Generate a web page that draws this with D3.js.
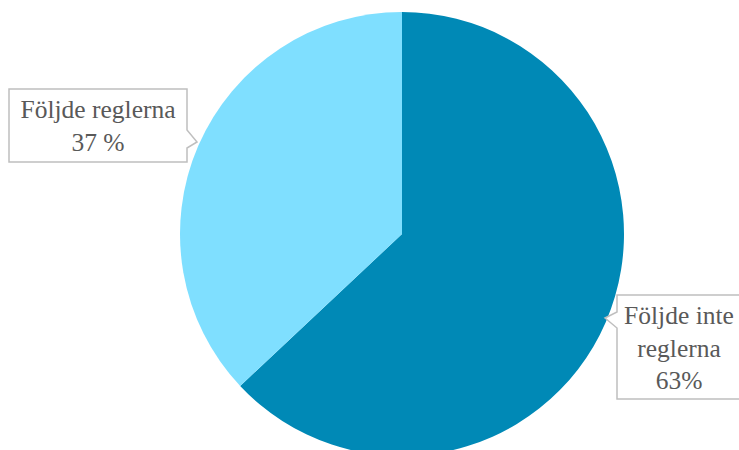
<!DOCTYPE html>
<html><head><meta charset="utf-8">
<script src="https://cdn.jsdelivr.net/npm/d3@7"></script>
<style>body{margin:0;background:#fff;}svg{display:block;}</style>
</head><body>
<svg id="c" width="739" height="450"></svg>
<script>
const categories = ["Följde inte reglerna", "Följde reglerna"];
const values = [63, 37];
const labelLines = [["Följde inte", "reglerna", "63%"], ["Följde reglerna", "37 %"]];
const colors = ["#0089B6", "#7FDFFF"];

const svg = d3.select("#c");
const cx = 402, cy = 234, r = 222;
const pie = d3.pie().sort(null).value(d => d)(values);
const arc = d3.arc().innerRadius(0).outerRadius(r);
const g = svg.append("g").attr("transform", `translate(${cx},${cy})`);
g.selectAll("path").data(pie).enter().append("path")
  .attr("d", arc).attr("fill", (d, i) => colors[i]);

// callouts
const boxes = [
  {x: 617, y: 295, w: 130, h: 104, side: "left", py1: 312, py2: 328, tip: [605, 318], tx: 679, ty: 324},
  {x: 9, y: 89, w: 178, h: 73, side: "right", py1: 130, py2: 148, tip: [197, 142], tx: 98, ty: 118}
];
boxes.forEach((b, i) => {
  let p;
  if (b.side === "left") {
    p = [[b.x, b.y], [b.x + b.w, b.y], [b.x + b.w, b.y + b.h], [b.x, b.y + b.h], [b.x, b.py2], b.tip, [b.x, b.py1]];
  } else {
    p = [[b.x, b.y], [b.x + b.w, b.y], [b.x + b.w, b.py1], b.tip, [b.x + b.w, b.py2], [b.x + b.w, b.y + b.h], [b.x, b.y + b.h]];
  }
  svg.append("path").attr("d", "M" + p.map(q => q.join(",")).join("L") + "Z")
    .attr("fill", "#fff").attr("stroke", "#bfbfbf").attr("stroke-width", 1.5);
  const t = svg.append("text").attr("text-anchor", "middle")
    .attr("font-family", "'Liberation Serif', serif").attr("font-size", 25.5).attr("fill", "#595959");
  labelLines[i].forEach((s, j) => t.append("tspan").attr("x", b.tx).attr("y", b.ty + j * 32.5).text(s));
});
</script>
</body></html>
